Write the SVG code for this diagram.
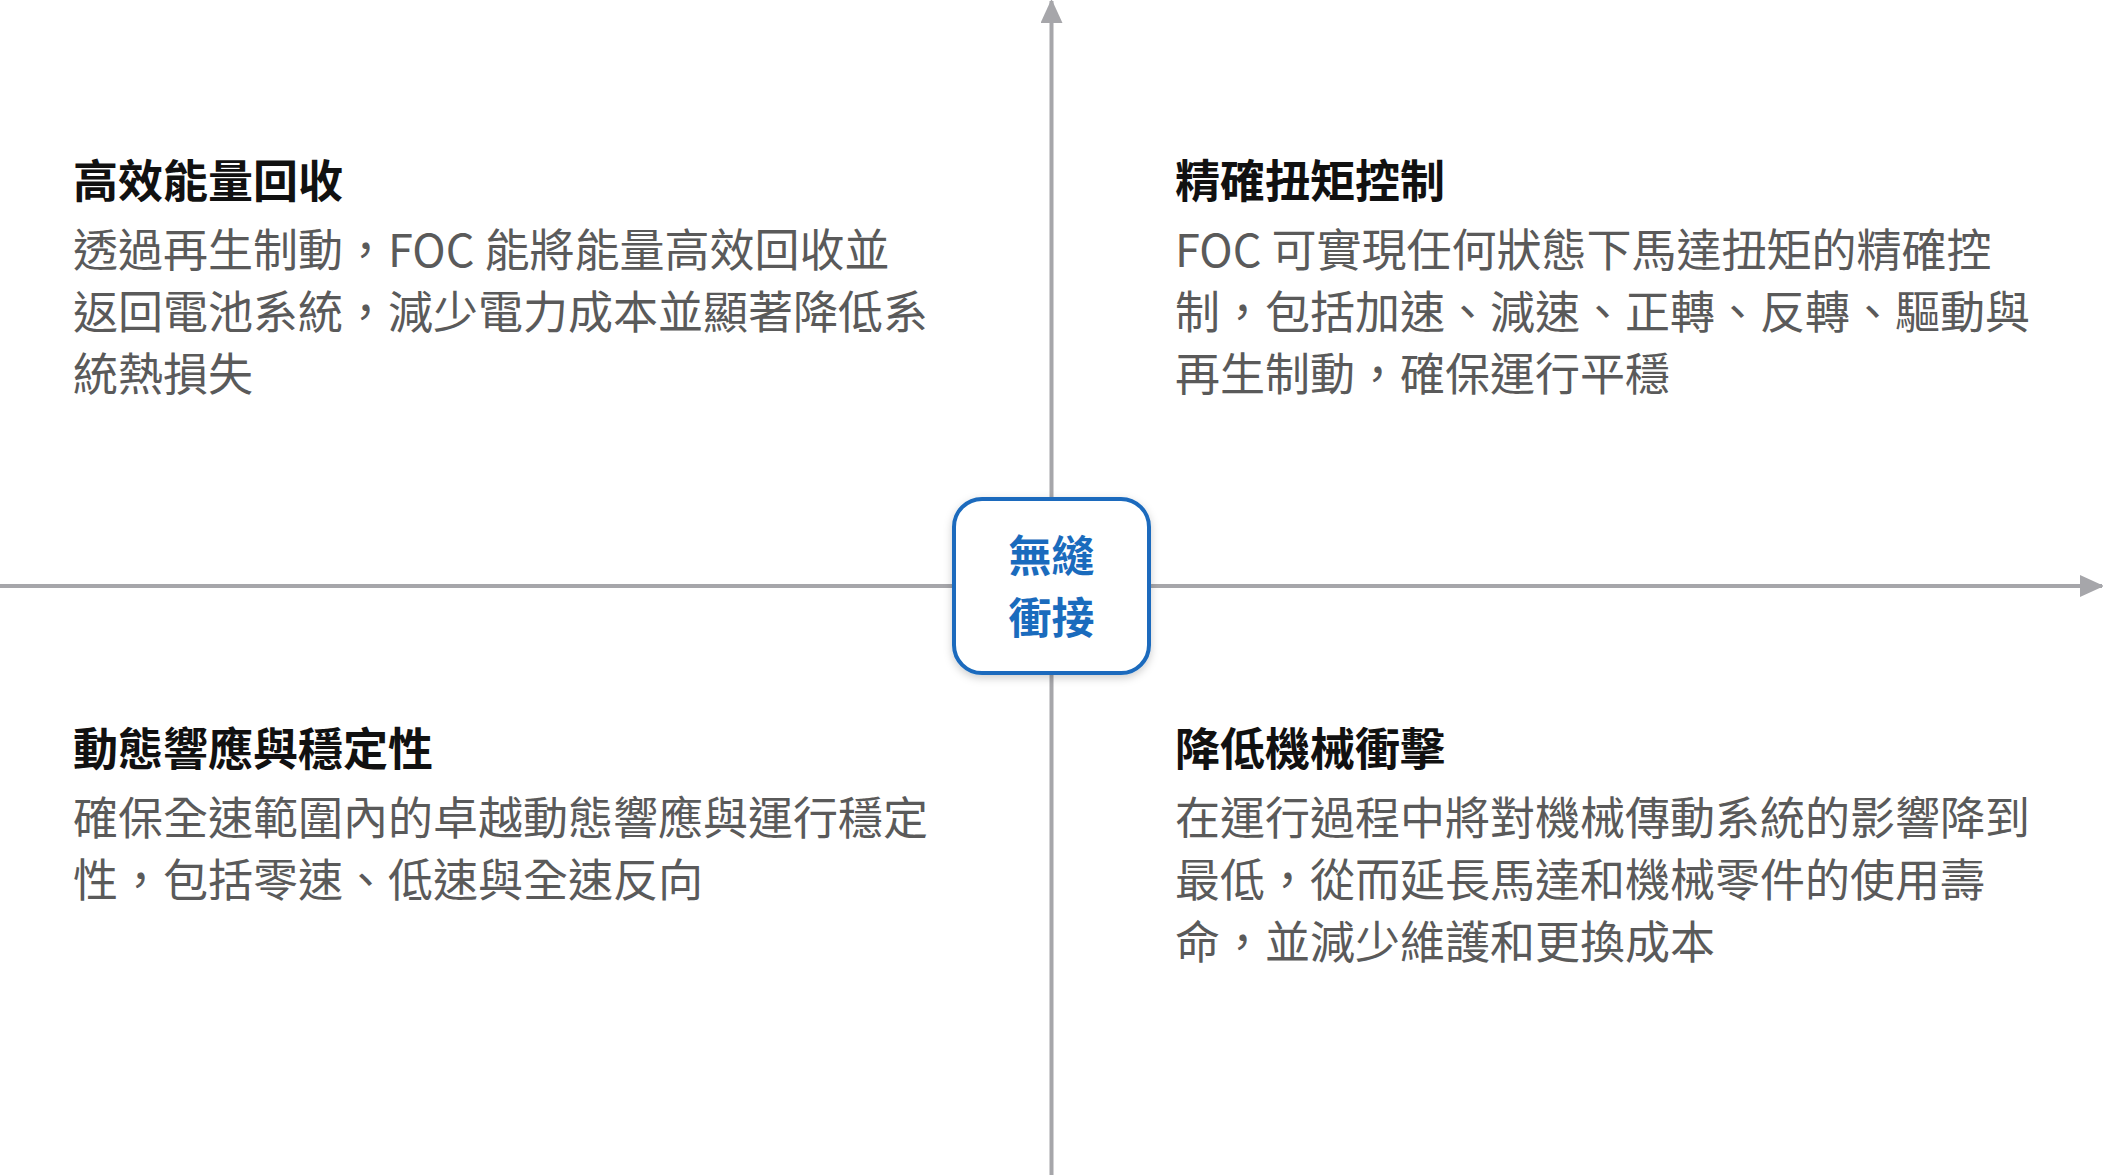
<svg xmlns="http://www.w3.org/2000/svg" width="2103" height="1175" viewBox="0 0 2103 1175">
<defs>
<style>
.t{font-family:"Noto Sans CJK TC","Noto Sans",sans-serif;font-weight:700;font-size:45px;fill:#111}
.b{font-family:"Noto Sans CJK TC","Noto Sans",sans-serif;font-size:45px;fill:#5a5a5a}
.ax{stroke:#a6a6aa;stroke-width:4;fill:none}
.c{font-family:"Noto Sans CJK TC",sans-serif;font-weight:700;font-size:43px;fill:#1a6bbd}
</style>
<marker id="ar" markerWidth="24" markerHeight="22" refX="22" refY="11" orient="auto" markerUnits="userSpaceOnUse" viewBox="0 0 24 22"><path d="M0,0L24,11L0,22z" fill="#a6a6aa"/></marker>
<filter id="sh" x="-20%" y="-20%" width="140%" height="140%"><feDropShadow dx="0" dy="3" stdDeviation="4" flood-opacity="0.2"/></filter>
</defs>
<rect width="2103" height="1175" fill="#fff"/>
<g id="connectors">
<line class="ax" x1="1051.5" y1="1175" x2="1051.5" y2="1" marker-end="url(#ar)"/>
<line class="ax" x1="0" y1="586" x2="2102" y2="586" marker-end="url(#ar)"/>
</g>
<g id="center">
<rect x="954" y="499" width="195" height="174" rx="28" fill="#fff" stroke="#1a6bbd" stroke-width="4" filter="url(#sh)"/>
<text class="c" x="1051.5" y="572" text-anchor="middle">無縫</text>
<text class="c" x="1051.5" y="634" text-anchor="middle">衝接</text>
</g>
<g id="q1">
<text class="t" x="73" y="198">高效能量回收</text>
<text class="b" x="73" y="267">透過再生制動，FOC 能將能量高效回收並</text>
<text class="b" x="73" y="329">返回電池系統，減少電力成本並顯著降低系</text>
<text class="b" x="73" y="391">統熱損失</text>
</g>
<g id="q2">
<text class="t" x="1175" y="198">精確扭矩控制</text>
<text class="b" x="1175" y="267">FOC 可實現任何狀態下馬達扭矩的精確控</text>
<text class="b" x="1175" y="329">制，包括加速、減速、正轉、反轉、驅動與</text>
<text class="b" x="1175" y="391">再生制動，確保運行平穩</text>
</g>
<g id="q3">
<text class="t" x="73" y="766">動態響應與穩定性</text>
<text class="b" x="73" y="835">確保全速範圍內的卓越動態響應與運行穩定</text>
<text class="b" x="73" y="897">性，包括零速、低速與全速反向</text>
</g>
<g id="q4">
<text class="t" x="1175" y="766">降低機械衝擊</text>
<text class="b" x="1175" y="835">在運行過程中將對機械傳動系統的影響降到</text>
<text class="b" x="1175" y="897">最低，從而延長馬達和機械零件的使用壽</text>
<text class="b" x="1175" y="959">命，並減少維護和更換成本</text>
</g>
</svg>
